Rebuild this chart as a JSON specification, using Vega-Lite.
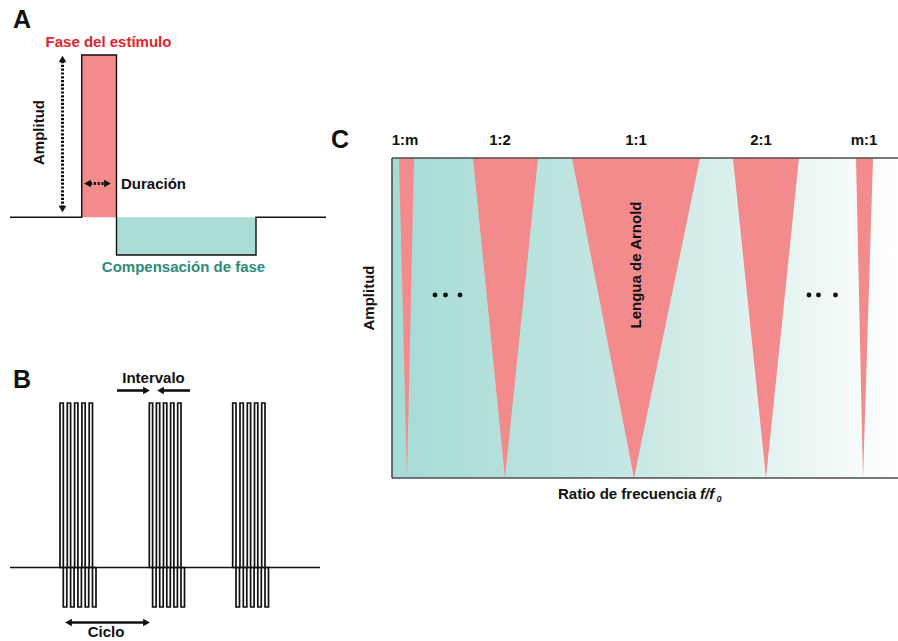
{
  "$schema": "https://vega.github.io/schema/vega-lite/v6.json",
  "width": 898,
  "height": 641,
  "padding": 0,
  "autosize": {"type": "none"},
  "background": "white",
  "view": {"stroke": null},
  "datasets": {
    "region": [{"x": 392, "x2": 898, "y": 158, "y2": 478}],
    "tongues": [
      {"tongue": "1:m", "y": 158, "x": 399, "x2": 414},
      {"tongue": "1:m", "y": 478, "x": 407, "x2": 407},
      {"tongue": "1:2", "y": 158, "x": 473, "x2": 538},
      {"tongue": "1:2", "y": 478, "x": 505, "x2": 505},
      {"tongue": "1:1", "y": 158, "x": 572, "x2": 700},
      {"tongue": "1:1", "y": 478, "x": 634, "x2": 634},
      {"tongue": "2:1", "y": 158, "x": 733, "x2": 799},
      {"tongue": "2:1", "y": 478, "x": 766, "x2": 766},
      {"tongue": "m:1", "y": 158, "x": 856, "x2": 873},
      {"tongue": "m:1", "y": 478, "x": 863, "x2": 863}
    ],
    "phases": [
      {"part": "estimulo", "x": 81.7, "x2": 116.5, "y": 55, "y2": 217.3},
      {"part": "compensacion", "x": 116.5, "x2": 256, "y": 217.3, "y2": 255}
    ],
    "waveA": [
      {"i": 0, "x": 10, "y": 217.3},
      {"i": 1, "x": 81.7, "y": 217.3},
      {"i": 2, "x": 81.7, "y": 55},
      {"i": 3, "x": 116.5, "y": 55},
      {"i": 4, "x": 116.5, "y": 255},
      {"i": 5, "x": 256, "y": 255},
      {"i": 6, "x": 256, "y": 217.3},
      {"i": 7, "x": 326, "y": 217.3}
    ],
    "pulses": [
      {"x": 60, "x2": 63.3, "y": 403, "y2": 567.5}, {"x": 63.3, "x2": 66.8, "y": 567.5, "y2": 607},
      {"x": 67.3, "x2": 70.6, "y": 403, "y2": 567.5}, {"x": 70.6, "x2": 74.1, "y": 567.5, "y2": 607},
      {"x": 74.6, "x2": 77.9, "y": 403, "y2": 567.5}, {"x": 77.9, "x2": 81.4, "y": 567.5, "y2": 607},
      {"x": 81.9, "x2": 85.2, "y": 403, "y2": 567.5}, {"x": 85.2, "x2": 88.7, "y": 567.5, "y2": 607},
      {"x": 89.2, "x2": 92.5, "y": 403, "y2": 567.5}, {"x": 92.5, "x2": 96, "y": 567.5, "y2": 607},
      {"x": 149.3, "x2": 152.6, "y": 403, "y2": 567.5}, {"x": 152.6, "x2": 156.1, "y": 567.5, "y2": 607},
      {"x": 156.4, "x2": 159.7, "y": 403, "y2": 567.5}, {"x": 159.7, "x2": 163.2, "y": 567.5, "y2": 607},
      {"x": 163.5, "x2": 166.8, "y": 403, "y2": 567.5}, {"x": 166.8, "x2": 170.3, "y": 567.5, "y2": 607},
      {"x": 170.6, "x2": 173.9, "y": 403, "y2": 567.5}, {"x": 173.9, "x2": 177.4, "y": 567.5, "y2": 607},
      {"x": 177.7, "x2": 181, "y": 403, "y2": 567.5}, {"x": 181, "x2": 184.5, "y": 567.5, "y2": 607},
      {"x": 232.7, "x2": 236, "y": 403, "y2": 567.5}, {"x": 236, "x2": 239.5, "y": 567.5, "y2": 607},
      {"x": 240, "x2": 243.3, "y": 403, "y2": 567.5}, {"x": 243.3, "x2": 246.8, "y": 567.5, "y2": 607},
      {"x": 247.3, "x2": 250.6, "y": 403, "y2": 567.5}, {"x": 250.6, "x2": 254.1, "y": 567.5, "y2": 607},
      {"x": 254.5, "x2": 257.8, "y": 403, "y2": 567.5}, {"x": 257.8, "x2": 261.3, "y": 567.5, "y2": 607},
      {"x": 261.7, "x2": 265, "y": 403, "y2": 567.5}, {"x": 265, "x2": 268.5, "y": 567.5, "y2": 607}
    ],
    "lines": [
      {"kind": "border", "x": 392, "y": 158, "x2": 392, "y2": 478},
      {"kind": "border", "x": 392, "y": 158, "x2": 898, "y2": 158},
      {"kind": "border", "x": 392, "y": 478, "x2": 898, "y2": 478},
      {"kind": "base", "x": 10, "y": 567.5, "x2": 320, "y2": 567.5},
      {"kind": "arrow", "x": 117, "y": 390.5, "x2": 146, "y2": 390.5},
      {"kind": "arrow", "x": 162, "y": 390.5, "x2": 190, "y2": 390.5},
      {"kind": "arrow", "x": 68, "y": 622.5, "x2": 147, "y2": 622.5},
      {"kind": "dotted", "x": 62.5, "y": 61, "x2": 62.5, "y2": 207},
      {"kind": "dotted", "x": 90, "y": 183.5, "x2": 105, "y2": 183.5}
    ],
    "heads": [
      {"dir": "up", "x": 62.5, "y": 59},
      {"dir": "down", "x": 62.5, "y": 209},
      {"dir": "left", "x": 87.5, "y": 183.5},
      {"dir": "right", "x": 107.5, "y": 183.5},
      {"dir": "right", "x": 146.5, "y": 390.5},
      {"dir": "left", "x": 160.5, "y": 390.5},
      {"dir": "left", "x": 68.5, "y": 622.5},
      {"dir": "right", "x": 146.5, "y": 622.5}
    ],
    "dots": [
      {"x": 435, "y": 295}, {"x": 445.5, "y": 295}, {"x": 460, "y": 295},
      {"x": 809, "y": 295}, {"x": 818.5, "y": 295}, {"x": 835.5, "y": 295}
    ],
    "labels": [
      {"role": "panel", "label": "A", "x": 22, "y": 20},
      {"role": "panel", "label": "B", "x": 22, "y": 380},
      {"role": "panel", "label": "C", "x": 340, "y": 140},
      {"role": "plain", "label": "Duración", "x": 153.5, "y": 184},
      {"role": "plain", "label": "Intervalo", "x": 153.5, "y": 378},
      {"role": "plain", "label": "Ciclo", "x": 106, "y": 632},
      {"role": "plain", "label": "1:m", "x": 405, "y": 140},
      {"role": "plain", "label": "1:2", "x": 500, "y": 140},
      {"role": "plain", "label": "1:1", "x": 636, "y": 140},
      {"role": "plain", "label": "2:1", "x": 761, "y": 140},
      {"role": "plain", "label": "m:1", "x": 864, "y": 140},
      {"role": "stimulus", "label": "Fase del estímulo", "x": 108.5, "y": 42},
      {"role": "compensation", "label": "Compensación de fase", "x": 183.5, "y": 267},
      {"role": "vertical", "label": "Amplitud", "x": 38.5, "y": 132.5},
      {"role": "vertical", "label": "Amplitud", "x": 369, "y": 298},
      {"role": "vertical", "label": "Lengua de Arnold", "x": 636, "y": 265},
      {"role": "xtitle", "label": "Ratio de frecuencia", "x": 558, "y": 494},
      {"role": "xtitle_it", "label": "f/f", "x": 700, "y": 494},
      {"role": "xtitle_sub", "label": "0", "x": 716.5, "y": 499}
    ]
  },
  "encoding": {
    "x": {"field": "x", "type": "quantitative", "scale": {"domain": [0, 898], "nice": false, "zero": false}, "axis": null},
    "y": {"field": "y", "type": "quantitative", "scale": {"domain": [0, 641], "nice": false, "zero": false, "reverse": true}, "axis": null}
  },
  "layer": [
    {
      "data": {"name": "region"},
      "mark": {
        "type": "rect",
        "fill": {"gradient": "linear", "x1": 0, "y1": 0, "x2": 1, "y2": 0,
          "stops": [
            {"offset": 0, "color": "#a6dbd5"},
            {"offset": 0.45, "color": "#c4e6e2"},
            {"offset": 0.8, "color": "#e8f5f3"},
            {"offset": 1, "color": "#ffffff"}
          ]},
        "strokeWidth": 0
      },
      "encoding": {"x2": {"field": "x2"}, "y2": {"field": "y2"}}
    },
    {
      "data": {"name": "tongues"},
      "mark": {"type": "area", "orient": "horizontal", "color": "#f38a8c", "opacity": 1},
      "encoding": {"x2": {"field": "x2"}, "detail": {"field": "tongue"}}
    },
    {
      "data": {"name": "phases"},
      "mark": {"type": "rect", "strokeWidth": 0},
      "encoding": {
        "x2": {"field": "x2"}, "y2": {"field": "y2"},
        "fill": {"field": "part", "type": "nominal", "scale": {"domain": ["estimulo", "compensacion"], "range": ["#f38a8c", "#a9ddd6"]}, "legend": null}
      }
    },
    {
      "data": {"name": "waveA"},
      "mark": {"type": "line", "color": "#111111", "strokeWidth": 1.4},
      "encoding": {"order": {"field": "i", "type": "quantitative"}}
    },
    {
      "data": {"name": "pulses"},
      "mark": {"type": "rect", "filled": false, "stroke": "#111111", "strokeWidth": 1.7},
      "encoding": {"x2": {"field": "x2"}, "y2": {"field": "y2"}}
    },
    {
      "data": {"name": "lines"},
      "transform": [{"filter": "datum.kind === 'border'"}],
      "mark": {"type": "rule", "color": "#4d4d4d", "strokeWidth": 1.6},
      "encoding": {"x2": {"field": "x2"}, "y2": {"field": "y2"}}
    },
    {
      "data": {"name": "lines"},
      "transform": [{"filter": "datum.kind === 'base'"}],
      "mark": {"type": "rule", "color": "#111111", "strokeWidth": 1.5},
      "encoding": {"x2": {"field": "x2"}, "y2": {"field": "y2"}}
    },
    {
      "data": {"name": "lines"},
      "transform": [{"filter": "datum.kind === 'arrow'"}],
      "mark": {"type": "rule", "color": "#111111", "strokeWidth": 2.6},
      "encoding": {"x2": {"field": "x2"}, "y2": {"field": "y2"}}
    },
    {
      "data": {"name": "lines"},
      "transform": [{"filter": "datum.kind === 'dotted'"}],
      "mark": {"type": "rule", "color": "#111111", "strokeWidth": 3, "strokeDash": [2.2, 1.6]},
      "encoding": {"x2": {"field": "x2"}, "y2": {"field": "y2"}}
    },
    {
      "data": {"name": "heads"},
      "mark": {"type": "point", "filled": true, "color": "#111111", "size": 60, "opacity": 1},
      "encoding": {
        "shape": {"field": "dir", "type": "nominal", "scale": {"domain": ["up", "down", "left", "right"], "range": ["triangle-up", "triangle-down", "triangle-left", "triangle-right"]}, "legend": null}
      }
    },
    {
      "data": {"name": "dots"},
      "mark": {"type": "circle", "color": "#111111", "size": 24, "opacity": 1}
    },
    {
      "data": {"name": "labels"},
      "transform": [{"filter": "datum.role === 'panel'"}],
      "mark": {"type": "text", "font": "Liberation Sans", "fontWeight": "bold", "fontSize": 25, "align": "center", "baseline": "middle", "color": "#111111"},
      "encoding": {"text": {"field": "label"}}
    },
    {
      "data": {"name": "labels"},
      "transform": [{"filter": "datum.role === 'plain'"}],
      "mark": {"type": "text", "font": "Liberation Sans", "fontWeight": "bold", "fontSize": 15, "align": "center", "baseline": "middle", "color": "#111111"},
      "encoding": {"text": {"field": "label"}}
    },
    {
      "data": {"name": "labels"},
      "transform": [{"filter": "datum.role === 'stimulus'"}],
      "mark": {"type": "text", "font": "Liberation Sans", "fontWeight": "bold", "fontSize": 15, "align": "center", "baseline": "middle", "color": "#e0242b"},
      "encoding": {"text": {"field": "label"}}
    },
    {
      "data": {"name": "labels"},
      "transform": [{"filter": "datum.role === 'compensation'"}],
      "mark": {"type": "text", "font": "Liberation Sans", "fontWeight": "bold", "fontSize": 15, "align": "center", "baseline": "middle", "color": "#2e8a7b"},
      "encoding": {"text": {"field": "label"}}
    },
    {
      "data": {"name": "labels"},
      "transform": [{"filter": "datum.role === 'vertical'"}],
      "mark": {"type": "text", "font": "Liberation Sans", "fontWeight": "bold", "fontSize": 15, "align": "center", "baseline": "middle", "angle": 270, "color": "#111111"},
      "encoding": {"text": {"field": "label"}}
    },
    {
      "data": {"name": "labels"},
      "transform": [{"filter": "datum.role === 'xtitle'"}],
      "mark": {"type": "text", "font": "Liberation Sans", "fontWeight": "bold", "fontSize": 15, "align": "left", "baseline": "middle", "color": "#111111"},
      "encoding": {"text": {"field": "label"}}
    },
    {
      "data": {"name": "labels"},
      "transform": [{"filter": "datum.role === 'xtitle_it'"}],
      "mark": {"type": "text", "font": "Liberation Sans", "fontWeight": "bold", "fontStyle": "italic", "fontSize": 15, "align": "left", "baseline": "middle", "color": "#111111"},
      "encoding": {"text": {"field": "label"}}
    },
    {
      "data": {"name": "labels"},
      "transform": [{"filter": "datum.role === 'xtitle_sub'"}],
      "mark": {"type": "text", "font": "Liberation Sans", "fontWeight": "bold", "fontStyle": "italic", "fontSize": 9, "align": "left", "baseline": "middle", "color": "#111111"},
      "encoding": {"text": {"field": "label"}}
    }
  ]
}
